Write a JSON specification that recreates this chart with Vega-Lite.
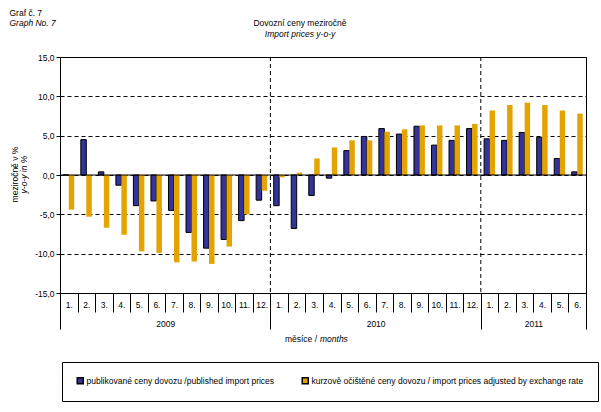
{
  "$schema": "https://vega.github.io/schema/vega-lite/v6.json",
  "width": 526,
  "height": 236,
  "autosize": {"type": "none"},
  "padding": {"left": 60, "top": 57, "right": 15, "bottom": 119},
  "background": "white",
  "title": {
    "text": "Dovozní ceny meziročně",
    "subtitle": "Import prices y-o-y",
    "anchor": "middle",
    "frame": "group",
    "dx": -23,
    "dy": 49,
    "offset": 19,
    "font": "Liberation Sans",
    "subtitleFont": "Liberation Sans",
    "fontSize": 8.5,
    "fontWeight": "normal",
    "subtitleFontSize": 8.5,
    "subtitleFontStyle": "italic",
    "subtitlePadding": 2,
    "color": "black",
    "subtitleColor": "black"
  },
  "data": {
    "values": [
      {"m": "2009-01", "s": "pub", "v": 0.0}, {"m": "2009-01", "s": "adj", "v": -4.4},
      {"m": "2009-02", "s": "pub", "v": 4.5}, {"m": "2009-02", "s": "adj", "v": -5.3},
      {"m": "2009-03", "s": "pub", "v": 0.4}, {"m": "2009-03", "s": "adj", "v": -6.7},
      {"m": "2009-04", "s": "pub", "v": -1.3}, {"m": "2009-04", "s": "adj", "v": -7.6},
      {"m": "2009-05", "s": "pub", "v": -3.9}, {"m": "2009-05", "s": "adj", "v": -9.7},
      {"m": "2009-06", "s": "pub", "v": -3.3}, {"m": "2009-06", "s": "adj", "v": -9.9},
      {"m": "2009-07", "s": "pub", "v": -4.5}, {"m": "2009-07", "s": "adj", "v": -11.1},
      {"m": "2009-08", "s": "pub", "v": -7.3}, {"m": "2009-08", "s": "adj", "v": -11.0},
      {"m": "2009-09", "s": "pub", "v": -9.3}, {"m": "2009-09", "s": "adj", "v": -11.3},
      {"m": "2009-10", "s": "pub", "v": -8.2}, {"m": "2009-10", "s": "adj", "v": -9.1},
      {"m": "2009-11", "s": "pub", "v": -5.8}, {"m": "2009-11", "s": "adj", "v": -5.0},
      {"m": "2009-12", "s": "pub", "v": -3.2}, {"m": "2009-12", "s": "adj", "v": -2.0},
      {"m": "2010-01", "s": "pub", "v": -3.9}, {"m": "2010-01", "s": "adj", "v": -0.3},
      {"m": "2010-02", "s": "pub", "v": -6.8}, {"m": "2010-02", "s": "adj", "v": 0.3},
      {"m": "2010-03", "s": "pub", "v": -2.6}, {"m": "2010-03", "s": "adj", "v": 2.1},
      {"m": "2010-04", "s": "pub", "v": -0.4}, {"m": "2010-04", "s": "adj", "v": 3.5},
      {"m": "2010-05", "s": "pub", "v": 3.1}, {"m": "2010-05", "s": "adj", "v": 4.4},
      {"m": "2010-06", "s": "pub", "v": 4.9}, {"m": "2010-06", "s": "adj", "v": 4.4},
      {"m": "2010-07", "s": "pub", "v": 5.9}, {"m": "2010-07", "s": "adj", "v": 5.5},
      {"m": "2010-08", "s": "pub", "v": 5.2}, {"m": "2010-08", "s": "adj", "v": 5.8},
      {"m": "2010-09", "s": "pub", "v": 6.2}, {"m": "2010-09", "s": "adj", "v": 6.3},
      {"m": "2010-10", "s": "pub", "v": 3.8}, {"m": "2010-10", "s": "adj", "v": 6.3},
      {"m": "2010-11", "s": "pub", "v": 4.4}, {"m": "2010-11", "s": "adj", "v": 6.3},
      {"m": "2010-12", "s": "pub", "v": 5.9}, {"m": "2010-12", "s": "adj", "v": 6.5},
      {"m": "2011-01", "s": "pub", "v": 4.6}, {"m": "2011-01", "s": "adj", "v": 8.2},
      {"m": "2011-02", "s": "pub", "v": 4.4}, {"m": "2011-02", "s": "adj", "v": 8.9},
      {"m": "2011-03", "s": "pub", "v": 5.4}, {"m": "2011-03", "s": "adj", "v": 9.2},
      {"m": "2011-04", "s": "pub", "v": 4.8}, {"m": "2011-04", "s": "adj", "v": 8.9},
      {"m": "2011-05", "s": "pub", "v": 2.1}, {"m": "2011-05", "s": "adj", "v": 8.2},
      {"m": "2011-06", "s": "pub", "v": 0.4}, {"m": "2011-06", "s": "adj", "v": 7.8}
    ]
  },
  "resolve": {"axis": {"x": "independent", "y": "independent"}},
  "layer": [
    {
      "transform": [{"filter": "datum.s == 'pub'"}],
      "mark": {"type": "bar", "stroke": "black", "strokeWidth": 1},
      "encoding": {
        "x": {
          "field": "m", "type": "ordinal",
          "scale": {"paddingInner": 0, "paddingOuter": 0},
          "axis": {
            "orient": "bottom",
            "title": "měsíce /",
            "titleX": 256.5, "titleY": 45, "titleAlign": "right", "titleBaseline": "middle",
            "labelExpr": "isValid(datum.value) ? toNumber(slice(datum.value, 5)) + '.' : ''",
            "labelAngle": 0, "labelOverlap": false,
            "tickBand": "extent", "tickSize": 19, "tickColor": "black",
            "labelPadding": -12, "labelBaseline": "top",
            "domainColor": "black", "grid": false
          }
        },
        "xOffset": {"field": "s", "scale": {"domain": ["pub", "adj"], "paddingInner": 0, "paddingOuter": 0.6}},
        "y": {
          "field": "v", "type": "quantitative",
          "scale": {"domain": [-15, 15], "nice": false},
          "axis": {
            "orient": "left",
            "values": [-15, -10, -5, 0, 5, 10, 15],
            "labelExpr": "(datum.value < 0 ? '-' : '') + replace(format(abs(datum.value), '.1f'), '.', ',')",
            "labelOverlap": false,
            "grid": true, "gridColor": "black", "gridDash": [4, 3], "gridOpacity": 1,
            "tickSize": 4, "tickColor": "black", "domainColor": "black",
            "labelPadding": 2,
            "title": "meziročně v %",
            "titleAngle": -90, "titleX": -46, "titleY": 117, "titleAlign": "center", "titleBaseline": "middle"
          }
        },
        "fill": {
          "field": "s", "type": "nominal",
          "scale": {"domain": ["pub", "adj"], "range": ["#333399", "#E3A300"]},
          "legend": {
            "orient": "none", "legendX": 2, "legendY": 305,
            "direction": "horizontal", "title": null,
            "strokeColor": "black", "padding": 14,
            "symbolType": "square", "symbolSize": 36,
            "labelFontSize": 8.5, "labelLimit": 400, "labelOffset": 2,
            "columnPadding": 24,
            "labelExpr": "datum.value == 'pub' ? 'publikované ceny dovozu /published import prices' : 'kurzově očištěné ceny dovozu / import prices adjusted by exchange rate'",
            "encode": {"symbols": {"update": {"stroke": {"signal": "datum.value == 'pub' ? 'black' : 'transparent'"}, "strokeWidth": {"value": 1}}}}
          }
        }
      }
    },
    {
      "transform": [{"filter": "datum.s == 'adj'"}],
      "mark": {"type": "bar", "strokeWidth": 0},
      "encoding": {
        "x": {
          "field": "m", "type": "ordinal",
          "axis": {
            "orient": "bottom",
            "title": "months", "titleFontStyle": "italic",
            "titleX": 259.5, "titleY": 45, "titleAlign": "left", "titleBaseline": "middle",
            "tickBand": "extent", "tickSize": 36, "tickColor": "black",
            "tickOpacity": {"condition": {"test": "datum.index < 0 || datum.value == '2009-12' || datum.value == '2010-12' || datum.value == '2011-06'", "value": 1}, "value": 0},
            "labelExpr": "datum.value == '2009-06' ? '2009' : datum.value == '2010-06' ? '2010' : datum.value == '2011-03' ? '2011' : ''",
            "labelAngle": 0, "labelOverlap": false, "labelOffset": 8.77, "labelPadding": -10, "labelBaseline": "top",
            "domain": false, "grid": false
          }
        },
        "xOffset": {"field": "s", "scale": {"domain": ["pub", "adj"]}},
        "y": {
          "field": "v", "type": "quantitative",
          "scale": {"domain": [-15, 15], "nice": false},
          "axis": {
            "orient": "left", "labels": false, "ticks": false, "domain": false, "grid": false,
            "title": "y-o-y in %", "titleFontStyle": "italic",
            "titleAngle": -90, "titleX": -36.5, "titleY": 117, "titleAlign": "center", "titleBaseline": "middle"
          }
        },
        "fill": {"field": "s", "type": "nominal", "scale": {"domain": ["pub", "adj"], "range": ["#333399", "#E3A300"]}}
      }
    },
    {
      "data": {"values": [{"z": 0}]},
      "mark": {"type": "rule", "color": "black", "strokeWidth": 1},
      "encoding": {
        "y": {
          "field": "z", "type": "quantitative",
          "scale": {"domain": [-15, 15], "nice": false},
          "axis": {
            "orient": "left", "labels": false, "ticks": false, "domain": false, "grid": false,
            "title": "Graf č. 7",
            "titleAngle": 0, "titleX": -51, "titleY": -49, "titleAlign": "left", "titleBaseline": "top"
          }
        }
      }
    },
    {
      "transform": [{"filter": "datum.s == 'pub' && (datum.m == '2010-01' || datum.m == '2011-01')"}],
      "mark": {"type": "rule", "color": "black", "strokeWidth": 1, "strokeDash": [4, 3]},
      "encoding": {
        "x": {
          "field": "m", "type": "ordinal", "bandPosition": 0,
          "axis": {
            "orient": "top", "labels": false, "ticks": false, "domain": false, "grid": false,
            "title": "Graph No. 7", "titleFontStyle": "italic",
            "titleX": -51, "titleY": -39, "titleAlign": "left", "titleBaseline": "top"
          }
        }
      }
    }
  ],
  "config": {
    "font": "Liberation Sans",
    "view": {"stroke": "black", "strokeWidth": 1},
    "axis": {
      "labelFont": "Liberation Sans", "titleFont": "Liberation Sans",
      "labelColor": "black", "titleColor": "black",
      "labelFontSize": 8.5, "titleFontSize": 8.5, "titleFontWeight": "normal"
    },
    "legend": {"labelFont": "Liberation Sans", "labelColor": "black"}
  }
}
